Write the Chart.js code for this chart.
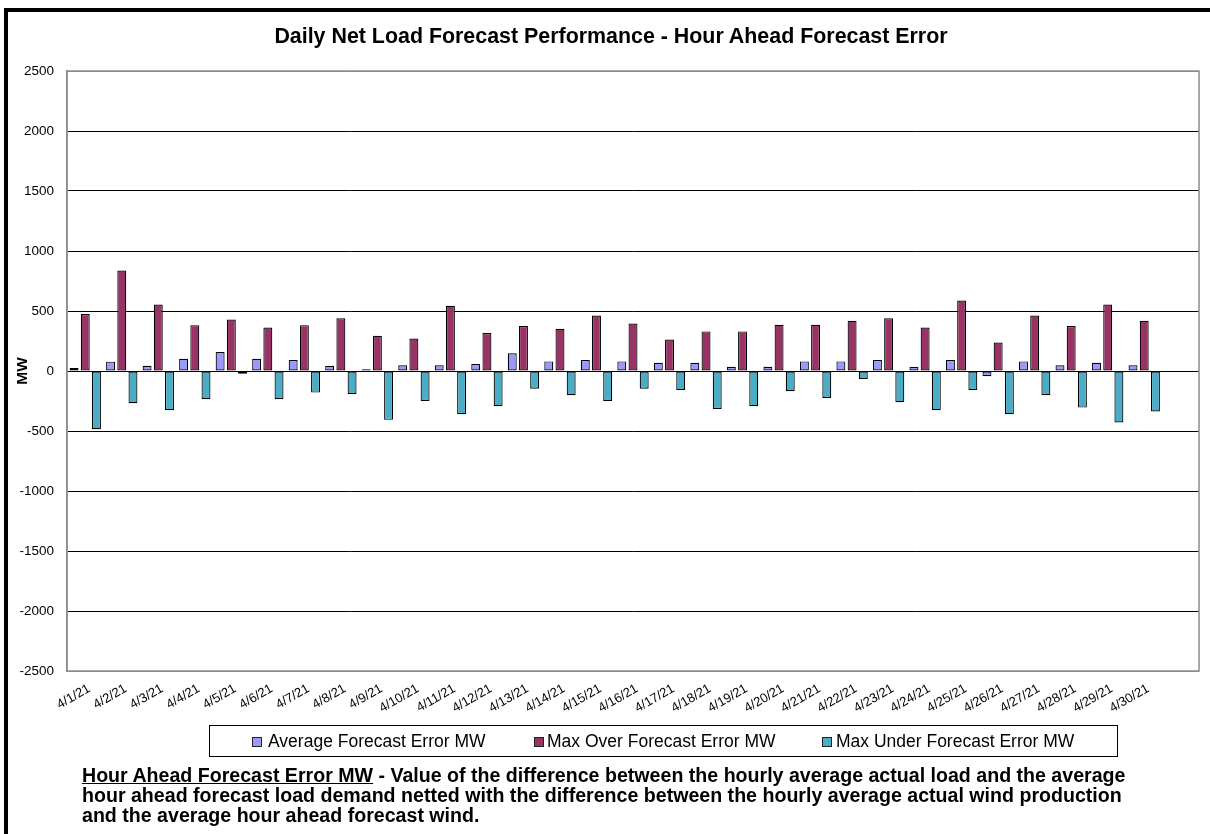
<!DOCTYPE html>
<html>
<head>
<meta charset="utf-8">
<script src="https://cdn.jsdelivr.net/npm/chart.js@4.4.1/dist/chart.umd.min.js"></script>
<style>
html,body{margin:0;padding:0;background:#fff;width:1210px;height:834px;overflow:hidden;font-family:"Liberation Sans",Arial,sans-serif;color:#000;}
#frame{position:absolute;left:4px;top:8px;width:1300px;height:900px;border-left:4px solid #000;border-top:4px solid #000;box-sizing:border-box;}
#wrap{position:absolute;left:0;top:0;width:1210px;height:834px;}
#title{position:absolute;top:23px;left:0;width:1222px;text-align:center;font-weight:bold;font-size:21.4px;line-height:26px;white-space:nowrap;}
#legend{position:absolute;left:209px;top:725px;width:909px;height:32px;border:1px solid #000;box-sizing:border-box;background:#fff;}
.li{position:absolute;top:0;height:30px;line-height:30px;font-size:17.5px;white-space:nowrap;}
.mk{position:absolute;top:11px;width:8px;height:8px;border:1px solid #222;}
#note{position:absolute;left:82px;top:765px;font-weight:bold;font-size:19.6px;line-height:20px;white-space:nowrap;}
</style>
</head>
<body>
<div id="wrap"><canvas id="c" width="1210" height="834"></canvas></div>
<div id="frame"></div>
<div id="title">Daily Net Load Forecast Performance - Hour Ahead Forecast Error</div>
<div id="legend"></div>
<div id="note"><u>Hour Ahead Forecast Error MW</u> - Value of the difference between the hourly average actual load and the average<br>hour ahead forecast load demand netted with the difference between the hourly average actual wind production<br>and the average hour ahead forecast wind.</div>
<script>
// ---- data ----
const categories = ['4/1/21','4/2/21','4/3/21','4/4/21','4/5/21','4/6/21','4/7/21','4/8/21','4/9/21','4/10/21',
  '4/11/21','4/12/21','4/13/21','4/14/21','4/15/21','4/16/21','4/17/21','4/18/21','4/19/21','4/20/21',
  '4/21/21','4/22/21','4/23/21','4/24/21','4/25/21','4/26/21','4/27/21','4/28/21','4/29/21','4/30/21',''];
const seriesNames = ['Average Forecast Error MW','Max Over Forecast Error MW','Max Under Forecast Error MW'];
const avgError = [25,78,44,102,158,102,91,44,14,47,47,58,147,80,91,80,69,69,36,36,80,80,91,36,91,-44,80,47,69,47];
const maxOver = [474,837,554,382,429,363,382,440,294,271,543,316,374,352,463,396,263,330,330,385,385,418,440,363,587,238,463,374,554,418];
const maxUnder = [-485,-269,-327,-235,-22,-235,-180,-191,-407,-249,-360,-294,-147,-202,-249,-147,-158,-316,-294,-169,-224,-66,-260,-327,-158,-360,-202,-305,-429,-338];
const yTickValues = [2500,2000,1500,1000,500,0,-500,-1000,-1500,-2000,-2500];
const colors = ['#9999FF','#993366','#4BACC6'];

// ---- legend (HTML) ----
const legendPos = [[42,58],[324,337],[612,626]];
const lg = document.getElementById('legend');
seriesNames.forEach((n,i)=>{
  const m=document.createElement('div');m.className='mk';m.style.left=legendPos[i][0]+'px';m.style.background=colors[i];lg.appendChild(m);
  const t=document.createElement('div');t.className='li';t.style.left=legendPos[i][1]+'px';t.textContent=n;lg.appendChild(t);
});

const plotBorder = {
  id:'plotBorder',
  afterDatasetsDraw(chart){
    const a=chart.chartArea, ctx=chart.ctx;
    ctx.save();ctx.strokeStyle='#8c8c8c';ctx.lineWidth=1.5;
    ctx.strokeRect(a.left,a.top,a.right-a.left,a.bottom-a.top);
    ctx.restore();
  }
};

new Chart(document.getElementById('c'), {
  type:'bar',
  data:{
    labels:categories,
    datasets:[
      {label:seriesNames[0],data:avgError,backgroundColor:colors[0]},
      {label:seriesNames[1],data:maxOver,backgroundColor:colors[1]},
      {label:seriesNames[2],data:maxUnder,backgroundColor:colors[2]}
    ].map(d=>Object.assign(d,{borderColor:'#000',borderWidth:1.2,borderSkipped:false,categoryPercentage:0.92,barPercentage:0.8}))
  },
  options:{
    responsive:false,animation:false,
    layout:{padding:{top:71,left:0,right:11,bottom:0}},
    plugins:{legend:{display:false},title:{display:false},tooltip:{enabled:false}},
    scales:{
      x:{
        grid:{display:false,drawTicks:false},
        border:{display:false},
        ticks:{autoSkip:false,minRotation:30,maxRotation:30,padding:10,labelOffset:4,color:'#000',
          font:{family:'"Liberation Sans", Arial, sans-serif',size:13}},
        afterFit(s){s.height=834-671;}
      },
      y:{
        min:-2500,max:2500,
        afterBuildTicks(s){s.ticks=yTickValues.map(v=>({value:v}));},
        grid:{drawTicks:false,lineWidth:1,color(ctx){return (ctx.tick&&Math.abs(ctx.tick.value)===2500)?'#8c8c8c':'#000';}},
        border:{display:true,color:'#8c8c8c',width:1.5},
        ticks:{padding:13,color:'#000',font:{family:'"Liberation Sans", Arial, sans-serif',size:13.5},callback(v){return String(v);}},
        title:{display:true,text:'MW',color:'#000',padding:{top:13,bottom:0},font:{family:'"Liberation Sans", Arial, sans-serif',size:15.5,weight:'bold'}},
        afterFit(s){s.width=67;}
      }
    }
  },
  plugins:[plotBorder]
});
</script>
</body>
</html>
